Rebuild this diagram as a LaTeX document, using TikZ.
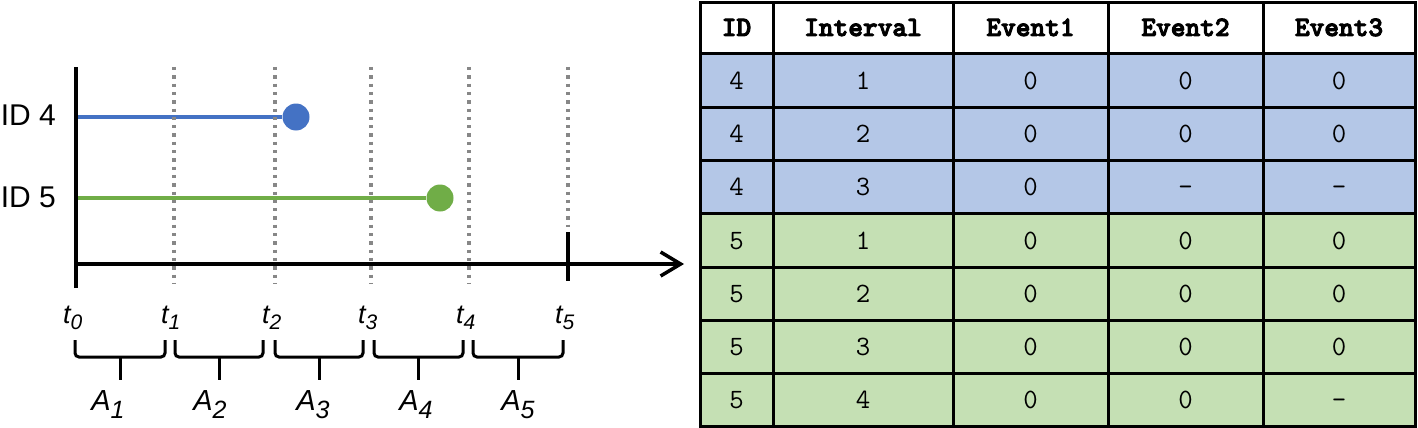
\documentclass[tikz,border=0pt]{standalone}
\usepackage{fontspec}
\setmainfont{Liberation Sans}
\newfontfamily\hdrmono[FakeBold=3.5]{lmmonolt10-bold.otf}
\usetikzlibrary{arrows.meta}
\definecolor{idblue}{HTML}{4472C4}
\definecolor{idgreen}{HTML}{70AD47}
\definecolor{rowblue}{HTML}{B4C7E7}
\definecolor{rowgreen}{HTML}{C5E0B4}
\definecolor{dotgray}{RGB}{135,135,135}
\newcommand\tsub[2]{#1\raisebox{-6pt}{\fontsize{21}{21}\selectfont #2}}
\newcommand\asub[2]{#1\raisebox{-8pt}{\fontsize{25}{25}\selectfont #2}}
\begin{document}
\begin{tikzpicture}[x=1pt,y=-1pt,
  axisline/.style={line width=4pt},
  gridline/.style={dotgray, line width=3.3pt, dash pattern=on 3.3pt off 5pt},
  idlab/.style={font=\fontsize{30}{36}\selectfont, anchor=base east, inner sep=0},
  tlab/.style={font=\fontsize{27}{30}\selectfont\itshape, anchor=base west, inner sep=0},
  alab/.style={font=\fontsize{29}{32}\selectfont\itshape, anchor=base, inner sep=0},
  bracepath/.style={line width=3pt, rounded corners=4pt},
  enddot/.style={circle, inner sep=0, minimum size=27pt},
  hdr/.style={font=\hdrmono\fontsize{28}{30}\selectfont, anchor=base, inner sep=0},
  cell/.style={font=\ttfamily\fontsize{28}{30}\selectfont, anchor=base, inner sep=0},
  tabline/.style={line width=3pt}]
\useasboundingbox (0,0) rectangle (1418,428);

% ---------- timeline ----------
\coordinate (O) at (76,264);
\coordinate (yTop) at (76,67);
\coordinate (yBot) at (76,288);
\coordinate (xEnd) at (684,264);
\coordinate (s4) at (76,117);
\coordinate (s5) at (76,198);
\node[enddot, fill=idblue] (d4) at (296,117) {};
\node[enddot, fill=idgreen] (d5) at (440,198) {};
\draw[idblue, line width=3.5pt] (s4) -- (d4);
\draw[idgreen, line width=3.5pt] (s5) -- (d5);

\draw[axisline] (yBot) -- (yTop);
\draw[axisline, -{Straight Barb[length=20pt,width=24pt,line width=3.5pt]}] (O) -- (xEnd);
\coordinate (k5a) at (568,232);
\coordinate (k5b) at (568,281);
\draw[axisline] (k5a) -- (k5b);

\foreach \x in {174,275,371,469}{
  \draw[gridline] (\x,67) -- (\x,284);
}
\draw[gridline] (568,67) -- (568,227);

\node[idlab] (id4) at (56,125) {ID 4};
\node[idlab] (id5) at (56,207) {ID 5};

\foreach \x/\i in {76/0,174/1,275/2,371/3,469/4,568/5}{
  \node[tlab] (t\i) at ({\x-13},323) {\tsub{t}{\i}};
}

\foreach \a/\b/\c/\i in {75/165/108/1,175/263/210/2,275/363/313/3,374/463/416/4,473/563/518/5}{
  \draw[bracepath] (\a,340) -- (\a,357) -- (\b,357) -- (\b,340);
  \draw[line width=3pt] ({(\a+\b)/2},357) -- ({(\a+\b)/2},380);
  \node[alab] (A\i) at (\c,410) {\asub{A}{\i}};
}

% ---------- table ----------
\fill[white] (700,3) rectangle (1415,54);
\fill[rowblue] (700,54) rectangle (1415,213);
\fill[rowgreen] (700,213) rectangle (1415,426);
\foreach \y in {54,107,160,213,267,320,373}{
  \draw[tabline] (700,\y) -- (1415,\y);
}
\foreach \x in {773,953,1108,1263}{
  \draw[tabline] (\x,3) -- (\x,426);
}
\draw[tabline] (700,3) rectangle (1415,426);

\foreach \x/\t/\j in {736.5/ID/1,863/Interval/2,1030.5/Event1/3,1185.5/Event2/4,1339/Event3/5}{
  \node[hdr] (h\j) at (\x,36) {\t};
}
\foreach \y/\r/\a/\b/\c/\d/\e in {
   89/1/4/1/0/0/0,
  142/2/4/2/0/0/0,
  195/3/4/3/0/–/–,
  249/4/5/1/0/0/0,
  302/5/5/2/0/0/0,
  355/6/5/3/0/0/0,
  408/7/5/4/0/0/–}{
  \node[cell] (c\r-1) at (736.5,\y) {\a};
  \node[cell] (c\r-2) at (863,\y) {\b};
  \node[cell] (c\r-3) at (1030.5,\y) {\c};
  \node[cell] (c\r-4) at (1185.5,\y) {\d};
  \node[cell] (c\r-5) at (1339,\y) {\e};
}
\end{tikzpicture}
\end{document}
